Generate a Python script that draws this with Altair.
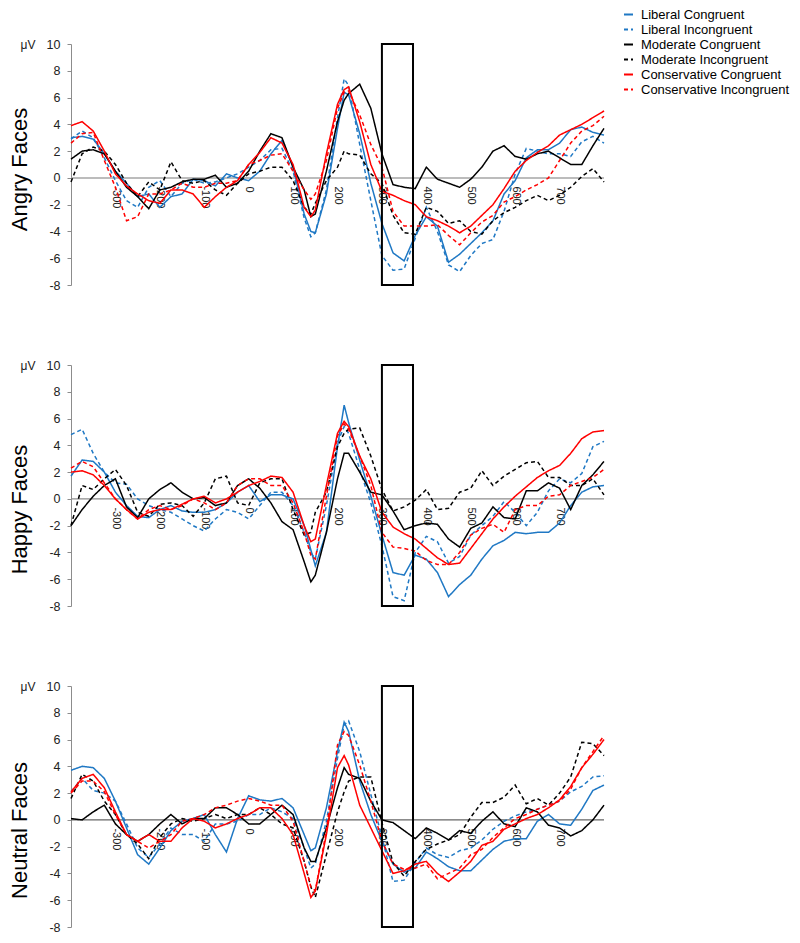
import altair as alt
import pandas as pd

FONT = "Liberation Sans"

TIME = [-400, -375, -350, -325, -300, -275, -250, -225, -200, -175, -150, -125,
        -100, -75, -50, -25, 0, 25, 50, 75, 100, 125, 140, 150, 175, 200, 215,
        225, 250, 275, 300, 325, 350, 375, 400, 425, 450, 475, 500, 525, 550,
        575, 600, 625, 650, 675, 700, 725, 750, 775, 800]

SERIES = ["Liberal Congruent", "Liberal Incongruent", "Moderate Congruent",
          "Moderate Incongruent", "Conservative Congruent", "Conservative Incongruent"]
COLORS = ["#1F78C4", "#1F78C4", "#000000", "#000000", "#FF0000", "#FF0000"]
DASHES = [[1, 0], [4, 3], [1, 0], [4, 3], [1, 0], [4, 3]]

X_TICKS = [-300, -200, -100, 0, 100, 200, 300, 400, 500, 600, 700]
Y_TICKS = [-8, -6, -4, -2, 0, 2, 4, 6, 8, 10]
BOX_START = [300]
BOX_END = [370]
BOX_LOW = [-8]
BOX_HIGH = [10]

# ---------------- Angry faces ----------------
ANGRY_LC = [3.0, 3.1, 2.9, 1.8, 0.5, -0.4, -1.4, -1.2, -2.2, -1.4, -1.2, -0.1, -0.2, -0.6, 0.3, 0.0,
            -0.2, 0.5, 1.8, 2.8, 0.8,
            -2.7, -4.0, -4.1, -1.2, 3.7, 6.4, 6.2, 3.3, -0.4,
            -3.4, -5.6, -6.2, -4.3, -2.9, -3.6, -6.3, -5.7, -4.9, -4.1, -3.2, -1.2, -0.2, 1.5, 2.1, 2.1, 2.6, 3.6, 3.8, 3.4, 3.2]
ANGRY_LI = [2.9, 3.5, 3.0, 1.5, -0.2, -1.7, -2.2, -0.7, -0.2, -1.4, -0.4, -0.1, -0.4, -0.3, 0.0, 0.3,
            0.8, 1.3, 2.1, 2.2, 0.5,
            -3.0, -4.4, -4.1, -0.9, 4.5, 7.4, 6.9, 2.5, -1.7,
            -5.8, -6.9, -6.8, -4.5, -2.2, -4.0, -6.5, -7.0, -5.8, -4.9, -4.6, -2.5, 0.3, 2.2, 2.0, 1.8, 1.8, 1.6, 2.7, 3.1, 2.6]
ANGRY_MC = [1.4, 2.0, 2.1, 1.8, 0.5, -0.7, -1.4, -2.3, -0.9, -0.7, -0.3, -0.1, -0.1, 0.2, -0.7, -0.4,
            0.5, 2.0, 3.3, 3.0, 0.8,
            -0.9, -2.9, -2.7, 0.5, 4.2, 5.8, 6.3, 7.0, 5.2,
            1.8, -0.5, -0.7, -0.8, 0.8, -0.1, -0.4, -0.7, -0.1, 0.8, 2.0, 2.4, 1.6, 1.4, 1.8, 2.0, 1.5, 1.0, 1.0, 2.4, 3.7]
ANGRY_MI = [-0.3, 1.8, 2.3, 2.0, 1.0, -0.4, -1.4, -0.3, -0.9, 1.2, -0.2, -0.4, -0.2, -0.9, -1.3, -0.4,
            0.3, 0.5, 0.8, 0.8, -0.2,
            -2.2, -2.7, -1.9, -0.2, 0.8, 2.0, 1.8, 1.7, 0.3,
            -0.4, -2.8, -4.1, -4.2, -2.2, -2.5, -3.4, -3.2, -4.0, -4.2, -3.2, -2.6, -2.2, -1.7, -1.3, -1.7, -1.3, -0.7, 0.1, 0.7, -0.3]
ANGRY_CC = [3.9, 4.2, 3.5, 2.0, 0.3, -0.6, -1.2, -1.7, -1.9, -0.9, -0.9, -1.2, -2.2, -1.4, -0.7, -0.2,
            1.0, 1.9, 3.0, 2.6, 1.0,
            -2.2, -2.9, -2.4, 1.8, 5.5, 6.6, 6.8, 4.2, 1.0,
            -1.0, -1.3, -1.7, -2.0, -2.9, -3.2, -3.6, -4.1, -3.6, -2.8, -2.0, -0.8, 0.5, 1.3, 1.9, 2.4, 3.2, 3.6, 4.0, 4.5, 5.0]
ANGRY_CI = [2.6, 3.3, 3.4, 1.3, -0.7, -3.2, -2.9, -1.2, -1.2, -0.9, -0.4, -0.7, -0.7, -0.4, -0.4, -0.2,
            1.0, 1.3, 1.7, 1.8, 0.5,
            -0.9, -1.6, -1.2, 1.3, 5.2, 6.4, 6.5, 4.7, 2.5,
            0.8, -2.5, -3.6, -3.6, -3.6, -3.5, -4.3, -5.0, -4.1, -3.3, -2.8, -1.8, -1.4, -0.9, -0.5, 0.0, 1.3, 2.6, 3.5, 3.9, 4.6]

# ---------------- Happy faces ----------------
HAPPY_LC = [1.7, 2.9, 2.8, 2.0, 0.5, -0.5, -1.3, -1.4, -0.8, -0.5, -0.9, -1.0, -1.0, -0.8, -0.3, 0.5,
            1.0, -0.2, 0.3, 0.3, 0.0,
            -2.0, -3.8, -5.0, -2.5, 3.9, 7.0, 5.7, 2.9, 0.2,
            -2.7, -5.5, -5.7, -4.2, -4.5, -5.5, -7.3, -6.4, -5.7, -4.5, -3.5, -3.1, -2.5, -2.6, -2.5, -2.5, -1.8, -0.5, 0.5, 0.9, 1.0]
HAPPY_LI = [4.8, 5.2, 3.4, 2.0, 1.2, 1.1, 0.0, -0.5, -0.8, -1.0, -1.5, -2.0, -2.4, -1.5, -0.8, -1.0,
            -1.5, -0.5, 0.5, 0.5, -0.5,
            -2.5, -4.0, -4.5, -0.5, 4.2, 5.4, 4.9, 2.2, -0.3,
            -3.5, -7.3, -7.6, -4.0, -2.8, -3.2, -4.8, -4.3, -2.7, -2.0, -1.3, -0.2, -1.0, -2.0, -1.0, 0.6, 1.5, 1.2, 1.9, 3.9, 4.3]
HAPPY_MC = [-2.0, -0.8, 0.2, 1.0, 1.5, -0.6, -1.4, 0.0, 0.7, 1.2, 0.5, 0.0, 0.1, -0.5, -0.3, 1.0,
            1.5, 0.8, -0.3, -1.7, -2.3,
            -4.7, -6.2, -5.7, -2.5, 1.5, 3.4, 3.4, 2.0, 0.5,
            0.3, -0.9, -2.3, -2.0, -1.8, -1.9, -3.0, -3.6, -2.2, -1.8, -0.6, -1.4, -1.5, 0.6, 0.6, 1.2, 0.8, -0.8, 1.0, 1.8, 2.8]
HAPPY_MI = [-2.0, 1.0, 0.7, 1.5, 2.2, 1.0, -1.0, -1.3, -0.4, -0.3, -0.5, -1.3, -0.3, 1.5, 1.7, -0.3,
            -0.5, 1.2, 1.5, 1.5, -0.8,
            -2.7, -2.5, -1.0, 0.5, 3.9, 4.9, 5.2, 5.3, 3.2,
            0.7, -0.9, -0.6, -0.1, 0.7, -0.8, -0.7, 0.5, 0.8, 2.1, 1.0, 1.7, 2.2, 2.7, 2.8, 1.6, 1.6, 1.0, 1.0, 1.5, 0.3]
HAPPY_CC = [2.0, 2.1, 1.8, 1.0, 0.0, -0.8, -1.5, -1.0, -0.8, -0.8, -0.4, 0.0, 0.2, -0.3, 0.0, 0.5,
            1.0, 1.3, 1.7, 1.6, 0.5,
            -2.0, -3.2, -3.0, 1.0, 4.9, 5.8, 5.4, 3.2, 1.5,
            -1.0, -2.1, -2.6, -3.0, -3.7, -4.4, -4.9, -4.8, -3.7, -2.6, -1.5, -0.6, 0.2, 0.9, 1.6, 2.1, 2.5, 3.4, 4.5, 5.0, 5.1]
HAPPY_CI = [2.3, 2.8, 2.4, 1.2, 0.0, -0.8, -1.5, -0.8, -0.5, -0.8, -0.5, 0.0, -0.3, -0.8, -0.3, 1.0,
            1.5, 1.5, 1.0, 1.0, -0.3,
            -2.5, -4.2, -4.5, 0.2, 4.7, 5.6, 5.2, 3.2, 1.0,
            -2.5, -3.6, -3.7, -3.9, -4.6, -4.9, -4.9, -4.0, -2.7, -2.2, -1.9, -2.5, -0.8, -0.5, -0.5, 0.2, 0.3, 1.0, 1.3, 1.6, 2.2]

# ---------------- Neutral faces ----------------
NEUTRAL_LC = [3.7, 4.0, 3.9, 3.1, 1.4, -0.6, -2.6, -3.3, -2.1, -0.8, -0.1, 0.1, 0.4, -1.1, -2.4, 0.1,
              1.8, 1.5, 1.4, 1.6, 0.9,
              -1.1, -2.3, -2.1, 0.9, 5.1, 7.3, 6.6, 2.9, 0.4,
              -1.6, -3.3, -3.9, -3.6, -2.4, -2.9, -3.5, -3.8, -3.8, -3.0, -2.2, -1.6, -1.4, -1.4, -0.1, 0.4, -0.3, -0.4, 0.8, 2.2, 2.6]
NEUTRAL_LI = [2.1, 3.1, 2.2, 2.0, 1.4, -0.3, -2.1, -2.8, -1.8, -0.6, -1.1, -1.1, -1.6, -0.3, -0.3, -0.1,
              0.4, 0.4, 0.9, 0.6, 0.1,
              -2.1, -3.6, -3.3, -0.1, 4.6, 7.1, 7.4, 5.1, 1.9,
              -1.3, -4.6, -4.5, -3.2, -2.1, -2.6, -2.8, -2.3, -2.1, -1.5, -0.7, -0.1, 0.3, 0.6, 0.8, 1.1, 1.4, 2.1, 2.5, 3.2, 3.3]
NEUTRAL_MC = [0.1, 0.0, 0.6, 1.1, -0.3, -1.1, -1.6, -1.1, -0.3, 0.4, -0.3, 0.1, 0.1, 0.9, 0.9, 0.4,
              -0.3, -0.3, 0.4, 1.1, 0.4,
              -2.1, -3.1, -3.1, -0.6, 2.4, 3.9, 3.4, 3.1, 1.4,
              0.0, -0.2, -0.8, -1.4, -0.6, -1.0, -1.5, -0.8, -1.0, -0.1, 0.6, -0.3, -0.5, 0.9, 0.6, -0.4, -0.6, -1.2, -0.8, 0.0, 1.1]
NEUTRAL_MI = [1.6, 3.4, 2.9, 1.4, 0.4, -1.1, -1.8, -2.9, -1.3, -0.3, 0.1, -0.1, 0.1, 0.4, 0.1, 0.4,
              0.4, 0.9, 0.4, -0.3, -0.6,
              -3.1, -5.0, -5.8, -2.6, 0.6, 2.1, 2.9, 3.2, 3.2,
              -0.2, -3.2, -4.2, -3.1, -2.2, -1.8, -1.5, -1.1, 0.2, 1.3, 1.3, 1.7, 2.6, 1.2, 1.6, 1.1, 2.0, 3.2, 5.8, 5.7, 4.8]
NEUTRAL_CC = [2.1, 3.1, 3.4, 2.4, 0.6, -1.1, -1.6, -1.1, -1.6, -1.6, -0.6, 0.1, -0.1, -0.6, -0.3, 0.1,
              0.4, 0.9, 0.9, 0.1, -1.1,
              -4.0, -5.8, -5.3, -1.1, 3.9, 4.8, 4.1, 1.1, -0.6,
              -2.3, -4.0, -3.8, -3.3, -3.1, -4.0, -4.6, -3.9, -3.1, -1.9, -1.6, -0.7, -0.3, 0.1, 0.4, 0.9, 1.5, 2.5, 3.9, 4.9, 6.0]
NEUTRAL_CI = [2.0, 2.9, 2.9, 2.1, 0.4, -1.1, -1.6, -2.1, -1.6, -1.1, -0.1, 0.1, 0.4, 0.9, 1.1, 1.4,
              1.6, 1.4, 1.1, 1.1, -0.1,
              -3.1, -5.0, -5.3, -0.8, 5.6, 6.6, 6.3, 4.1, 1.4,
              -1.6, -3.3, -3.7, -3.6, -3.3, -4.4, -4.0, -3.6, -2.6, -2.2, -1.3, -0.6, 0.1, 0.4, 0.8, 1.1, 1.4, 2.3, 3.9, 5.1, 6.3]

PANELS = [
    ("Angry Faces", [ANGRY_LC, ANGRY_LI, ANGRY_MC, ANGRY_MI, ANGRY_CC, ANGRY_CI], "#A6A6A6", 1.5, -5, True),
    ("Happy Faces", [HAPPY_LC, HAPPY_LI, HAPPY_MC, HAPPY_MI, HAPPY_CC, HAPPY_CI], "#8C8C8C", 1.2, -24, False),
    ("Neutral Faces", [NEUTRAL_LC, NEUTRAL_LI, NEUTRAL_MC, NEUTRAL_MI, NEUTRAL_CC, NEUTRAL_CI], "#666666", 1.2, -24, False),
]

W, H = 533, 241


def make_panel(name, series_lists, zero_color, zero_width, title_dx, with_legend):
    rows = []
    for s, vals in zip(SERIES, series_lists):
        for t, v in zip(TIME, vals):
            rows.append({"t": t, "v": v, "series": s})
    df = pd.DataFrame(rows)

    x_enc = alt.X(
        "t:Q",
        scale=alt.Scale(domain=[-400, 800], nice=False, zero=False),
        axis=alt.Axis(values=X_TICKS, labelAngle=90, labelAlign="left", labelBaseline="middle",
                      labelPadding=8, offset=-H * 8 / 18, domain=False, ticks=False, grid=False,
                      title=None, labelFontSize=11, labelFont=FONT, labelColor="#222222",
                      labelExpr="'' + datum.value", labelFlush=False, labelOverlap=False),
    )
    y_enc = alt.Y(
        "v:Q",
        scale=alt.Scale(domain=[-8, 10], nice=False, zero=False),
        axis=alt.Axis(values=Y_TICKS, title="μV", titleAngle=0, titleX=-36, titleY=0,
                      titleAlign="right", titleBaseline="middle", titleFontSize=12, titleFont=FONT,
                      titleFontWeight="normal", titleColor="#222222", labelFontSize=12.5,
                      labelFont=FONT, labelColor="#222222", labelExpr="'' + datum.value",
                      domainColor="#8C8C8C", tickColor="#8C8C8C", tickSize=4, labelPadding=7,
                      grid=False, labelFlush=False, labelOverlap=False),
    )
    if with_legend:
        leg = alt.Legend(orient="none", legendX=551, legendY=-36, title=None, symbolType="stroke",
                         symbolSize=81, symbolStrokeWidth=2, labelFontSize=13, labelFont=FONT,
                         labelColor="#000000", rowPadding=1.0, labelOffset=6, padding=0)
    else:
        leg = None

    color_enc = alt.Color("series:N", scale=alt.Scale(domain=SERIES, range=COLORS), legend=leg)
    dash_enc = alt.StrokeDash("series:N", scale=alt.Scale(domain=SERIES, range=DASHES), legend=leg)

    zero = alt.Chart(pd.DataFrame({"v": [0]})).mark_rule(
        color=zero_color, strokeWidth=zero_width).encode(y=y_enc)
    lines = alt.Chart(df).mark_line(strokeWidth=1.5).encode(
        x=x_enc, y=y_enc, color=color_enc, strokeDash=dash_enc)
    box_df = pd.DataFrame({"t": BOX_START, "t2": BOX_END, "v": BOX_LOW, "v2": BOX_HIGH})
    box = alt.Chart(box_df).mark_rect(fillOpacity=0, stroke="black", strokeWidth=2).encode(
        x=x_enc, x2="t2", y=y_enc, y2="v2")

    return alt.layer(zero, lines, box).properties(
        width=W, height=H,
        title=alt.TitleParams(name, orient="left", fontSize=22, font=FONT, fontWeight="normal",
                              color="#000000", anchor="middle", offset=-12, dx=title_dx),
    )


panels = [make_panel(*p) for p in PANELS]

chart = alt.vconcat(*panels, spacing=67).resolve_scale(
    color="independent", strokeDash="independent"
).properties(
    padding={"left": 1, "top": 0, "right": 0, "bottom": 0}
).configure_view(stroke=None)

chart.save("out.html", embed_options={"renderer": "svg", "actions": False})
